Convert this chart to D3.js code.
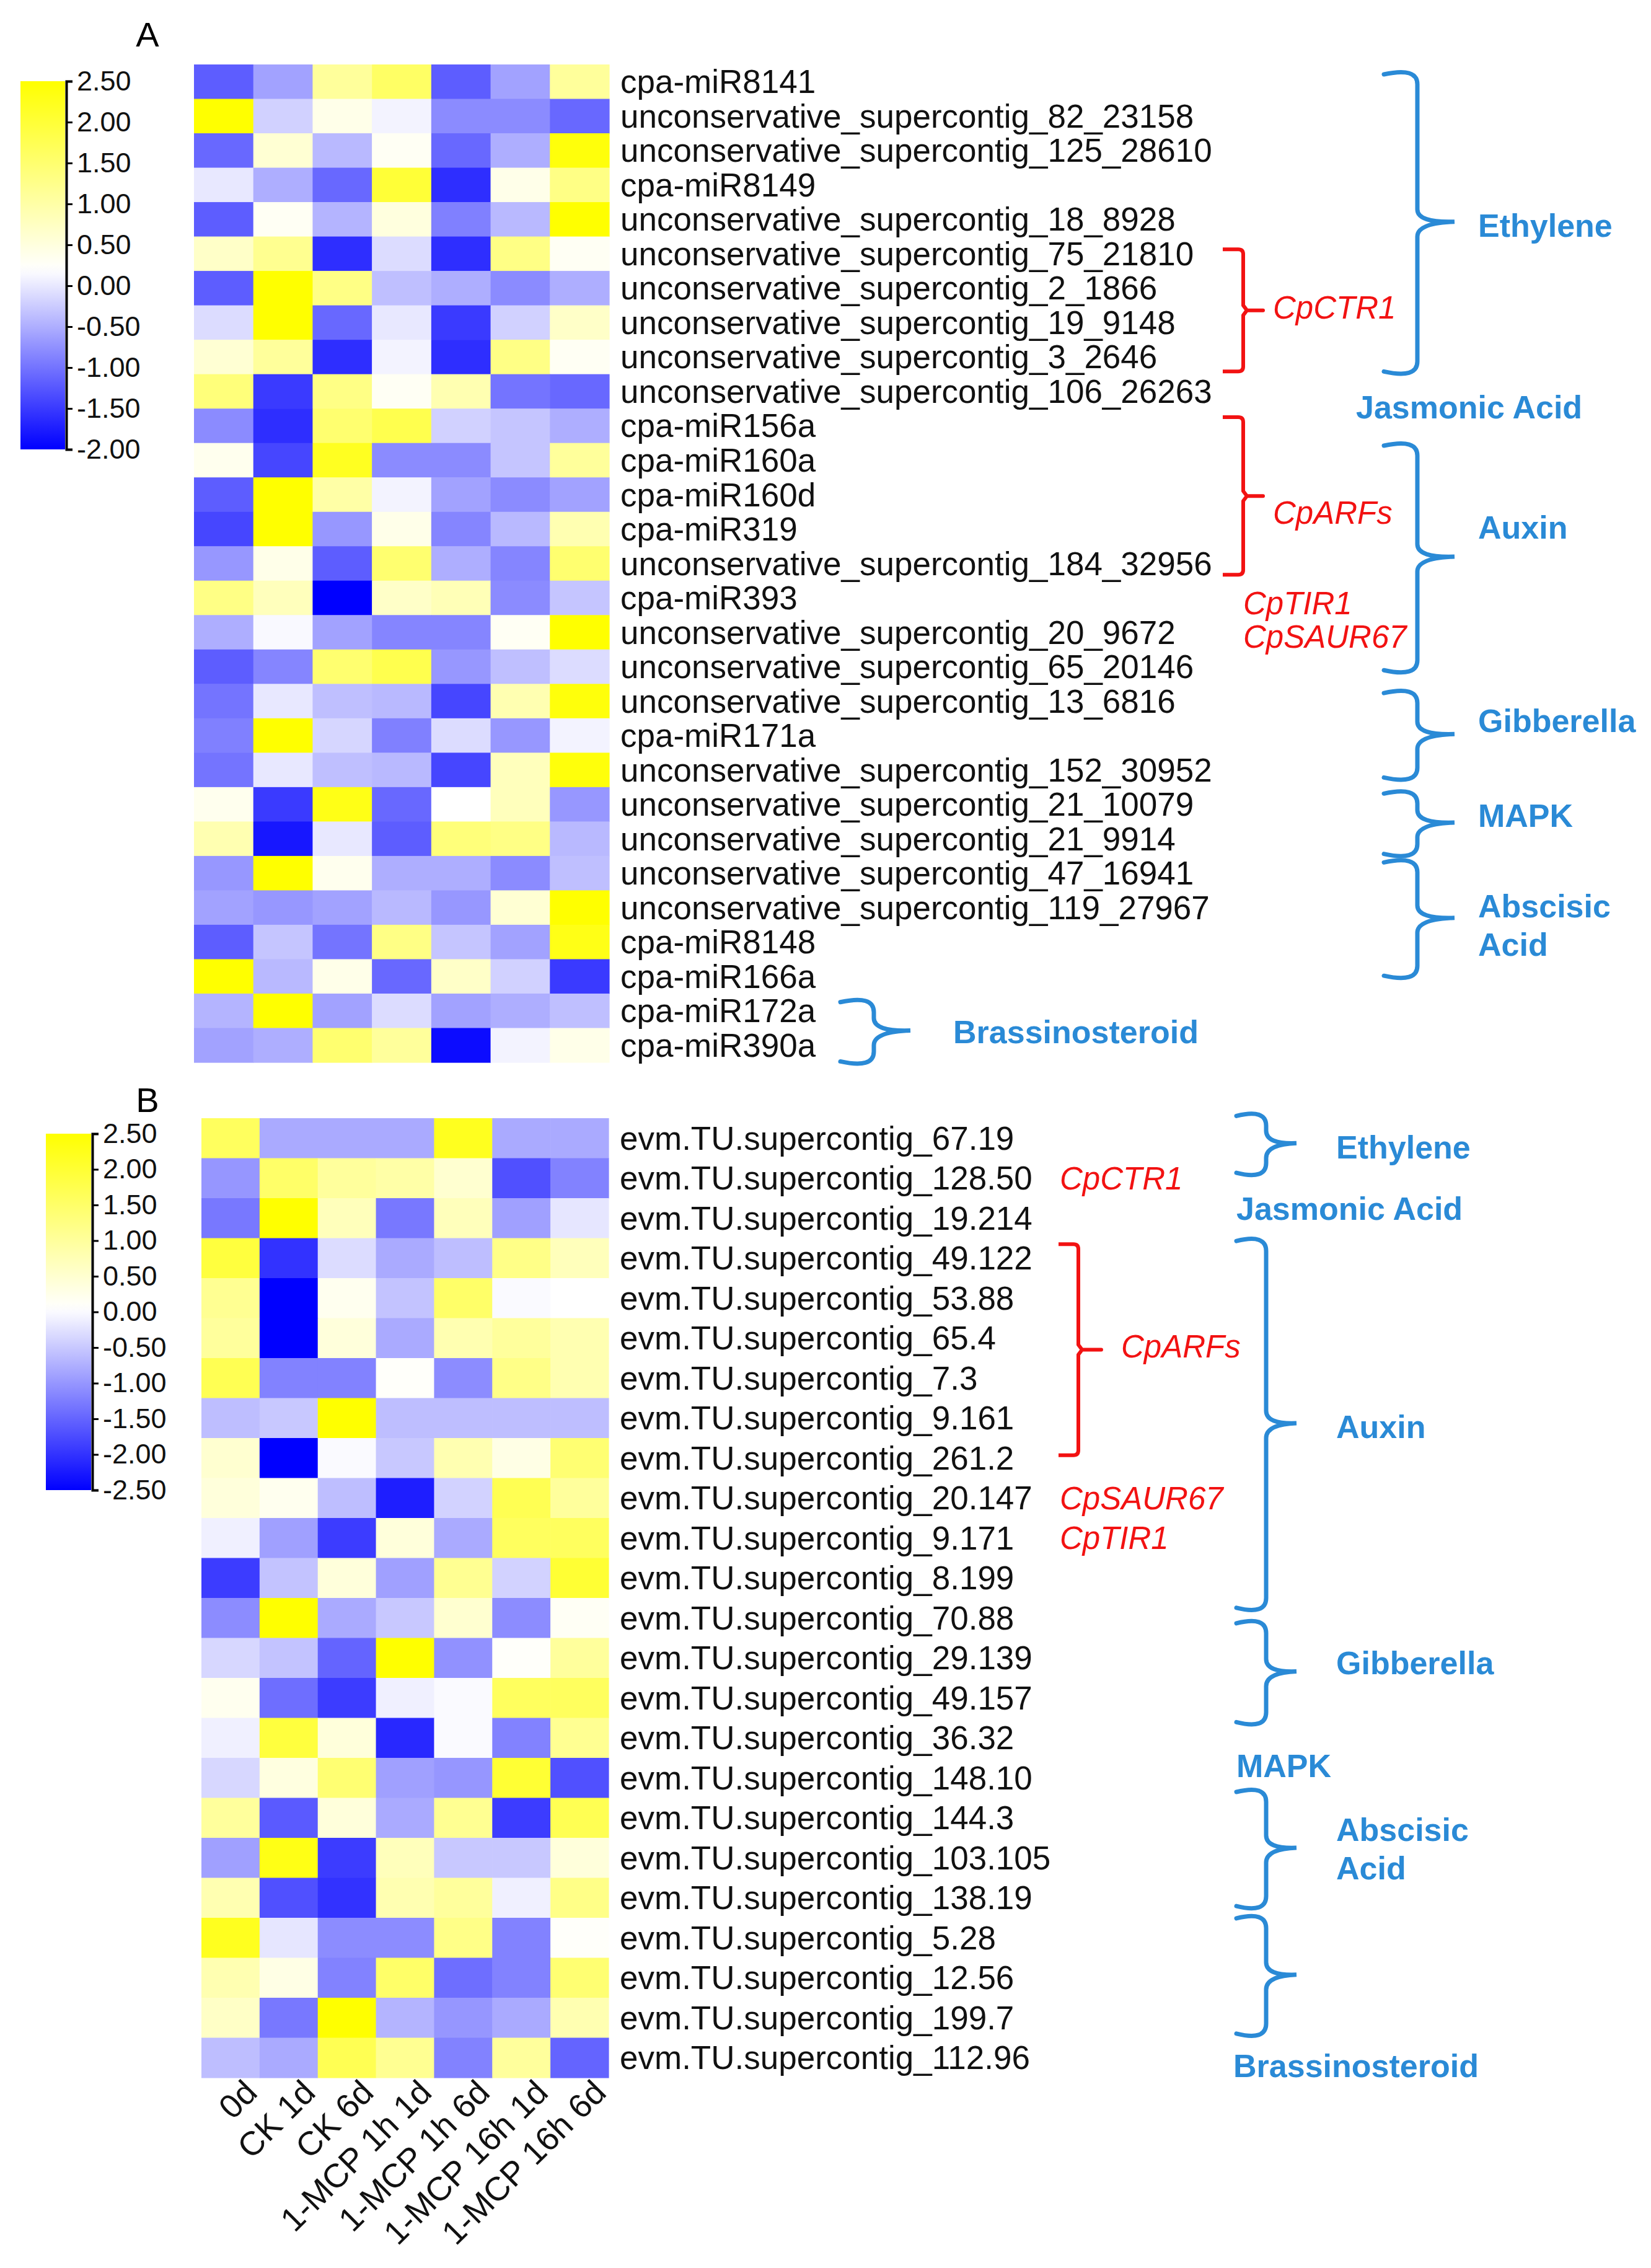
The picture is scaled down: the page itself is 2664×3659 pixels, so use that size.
<!DOCTYPE html>
<html>
<head>
<meta charset="utf-8">
<script src="https://cdn.jsdelivr.net/npm/d3@7"></script>
<style>
body { margin: 0; background: #fff; }
text { font-family: "Liberation Sans", Arial, sans-serif; }
</style>
</head>
<body>
<div id="chart"></div>
<script>
// Data

var timePoints = ['0d', 'CK 1d', 'CK 6d', '1-MCP 1h 1d', '1-MCP 1h 6d', '1-MCP 16h 1d', '1-MCP 16h 6d'];

var mirnaNames = [
	'cpa-miR8141', 'unconservative_supercontig_82_23158', 'unconservative_supercontig_125_28610',
	'cpa-miR8149', 'unconservative_supercontig_18_8928', 'unconservative_supercontig_75_21810',
	'unconservative_supercontig_2_1866', 'unconservative_supercontig_19_9148', 'unconservative_supercontig_3_2646',
	'unconservative_supercontig_106_26263', 'cpa-miR156a', 'cpa-miR160a', 'cpa-miR160d', 'cpa-miR319',
	'unconservative_supercontig_184_32956', 'cpa-miR393', 'unconservative_supercontig_20_9672',
	'unconservative_supercontig_65_20146', 'unconservative_supercontig_13_6816', 'cpa-miR171a',
	'unconservative_supercontig_152_30952', 'unconservative_supercontig_21_10079', 'unconservative_supercontig_21_9914',
	'unconservative_supercontig_47_16941', 'unconservative_supercontig_119_27967', 'cpa-miR8148',
	'cpa-miR166a', 'cpa-miR172a', 'cpa-miR390a'
];

var mirnaValues = [
	[-1.2, -0.6, 1.1, 1.6, -1.2, -0.6, 1.1],
	[2.5, -0.2, 0.4, 0.1, -0.8, -0.8, -1.1],
	[-1.1, 0.6, -0.4, 0.3, -1.1, -0.5, 2.4],
	[0.0, -0.5, -1.1, 2.0, -1.6, 0.4, 1.3],
	[-1.2, 0.3, -0.45, 0.5, -0.9, -0.4, 2.5],
	[0.7, 1.2, -1.6, -0.1, -1.6, 1.3, 0.3],
	[-1.2, 2.5, 1.3, -0.35, -0.5, -0.8, -0.5],
	[-0.1, 2.5, -1.1, 0.0, -1.5, -0.2, 0.7],
	[0.6, 1.1, -1.6, 0.1, -1.6, 1.3, 0.3],
	[1.4, -1.5, 1.3, 0.3, 0.9, -1.0, -1.1],
	[-0.8, -1.6, 1.5, 1.8, -0.2, -0.3, -0.5],
	[0.35, -1.4, 2.2, -0.8, -0.8, -0.3, 1.1],
	[-1.2, 2.5, 1.0, 0.1, -0.6, -0.8, -0.6],
	[-1.4, 2.5, -0.7, 0.4, -0.85, -0.4, 0.9],
	[-0.7, 0.4, -1.2, 1.5, -0.5, -0.85, 1.5],
	[1.3, 0.8, -2.0, 0.7, 0.85, -0.8, -0.3],
	[-0.5, 0.15, -0.6, -0.85, -0.85, 0.3, 2.5],
	[-1.2, -0.85, 1.5, 1.8, -0.7, -0.35, -0.1],
	[-1.0, 0.0, -0.35, -0.4, -1.4, 0.9, 2.4],
	[-0.9, 2.5, -0.15, -0.9, -0.1, -0.7, 0.1],
	[-1.0, 0.0, -0.35, -0.4, -1.4, 0.8, 2.4],
	[0.35, -1.5, 2.3, -1.1, 0.2, 0.8, -0.7],
	[0.9, -1.8, 0.0, -1.2, 1.4, 1.3, -0.4],
	[-0.7, 2.5, 0.35, -0.5, -0.5, -0.8, -0.35],
	[-0.6, -0.7, -0.6, -0.4, -0.7, 0.6, 2.5],
	[-1.2, -0.3, -1.0, 1.3, -0.3, -0.6, 2.3],
	[2.5, -0.4, 0.4, -1.1, 0.7, -0.2, -1.5],
	[-0.45, 2.5, -0.6, -0.1, -0.6, -0.5, -0.35],
	[-0.6, -0.5, 1.5, 1.1, -1.9, 0.1, 0.4]
];

var geneNames = [
	'evm.TU.supercontig_67.19', 'evm.TU.supercontig_128.50', 'evm.TU.supercontig_19.214',
	'evm.TU.supercontig_49.122', 'evm.TU.supercontig_53.88', 'evm.TU.supercontig_65.4',
	'evm.TU.supercontig_7.3', 'evm.TU.supercontig_9.161', 'evm.TU.supercontig_261.2',
	'evm.TU.supercontig_20.147', 'evm.TU.supercontig_9.171', 'evm.TU.supercontig_8.199',
	'evm.TU.supercontig_70.88', 'evm.TU.supercontig_29.139', 'evm.TU.supercontig_49.157',
	'evm.TU.supercontig_36.32', 'evm.TU.supercontig_148.10', 'evm.TU.supercontig_144.3',
	'evm.TU.supercontig_103.105', 'evm.TU.supercontig_138.19', 'evm.TU.supercontig_5.28',
	'evm.TU.supercontig_12.56', 'evm.TU.supercontig_199.7', 'evm.TU.supercontig_112.96'
];

var geneValues = [
	[1.6, -0.8, -0.8, -0.8, 2.2, -0.8, -0.8],
	[-1.0, 1.5, 1.0, 0.9, 0.5, -1.7, -1.2],
	[-1.3, 2.5, 0.7, -1.3, 0.7, -0.9, -0.2],
	[1.9, -2.0, -0.3, -0.8, -0.6, 1.2, 0.7],
	[1.1, -2.5, 0.2, -0.55, 1.5, 0.0, 0.05],
	[1.0, -2.5, 0.4, -0.8, 0.8, 1.0, 0.8],
	[1.7, -1.2, -1.2, 0.1, -1.1, 1.2, 0.8],
	[-0.6, -0.5, 2.5, -0.6, -0.6, -0.6, -0.6],
	[0.5, -2.5, 0.0, -0.5, 0.8, 0.3, 1.4],
	[0.4, 0.2, -0.6, -2.2, -0.4, 1.7, 1.0],
	[-0.1, -0.9, -1.9, 0.4, -0.8, 1.6, 1.6],
	[-1.9, -0.55, 0.4, -0.9, 1.1, -0.4, 2.0],
	[-1.1, 2.5, -0.8, -0.5, 0.5, -1.1, 0.15],
	[-0.35, -0.55, -1.5, 2.5, -1.05, 0.1, 1.0],
	[0.2, -1.4, -1.9, -0.1, 0.0, 1.6, 1.6],
	[-0.1, 1.9, 0.4, -2.1, 0.0, -1.2, 1.1],
	[-0.35, 0.35, 1.4, -0.9, -1.0, 2.0, -1.7],
	[1.0, -1.6, 0.4, -0.8, 1.1, -1.9, 1.7],
	[-0.9, 2.3, -1.9, 0.7, -0.5, -0.5, 0.4],
	[0.8, -1.7, -2.0, 0.8, 1.0, -0.1, 1.2],
	[2.2, -0.2, -1.1, -1.1, 1.2, -1.2, 0.1],
	[0.8, 0.3, -1.2, 1.5, -1.4, -1.2, 1.4],
	[0.6, -1.3, 2.5, -0.7, -1.0, -0.8, 0.8],
	[-0.6, -0.8, 1.7, 1.1, -1.2, 1.0, -1.5]
];

var mirnaTicks = [2.5, 2, 1.5, 1, 0.5, 0, -0.5, -1, -1.5, -2];
var geneTicks = [2.5, 2, 1.5, 1, 0.5, 0, -0.5, -1, -1.5, -2, -2.5];

// Annotation groups, all spans in row units (row index, fractional)
var mirnaBraces = [
	{ label: 'Ethylene', from: 0.18, to: 9.03, labelAt: 4.68 },
	{ label: 'Auxin', from: 10.97, to: 17.71, labelAt: 13.46 },
	{ label: 'Gibberella', from: 18.16, to: 20.83, labelAt: 19.08 },
	{ label: 'MAPK', from: 21.08, to: 23.05, labelAt: 21.82 },
	{ label: 'Abscisic|Acid', from: 23.08, to: 26.59, labelAt: 25.01 }
];
var mirnaFreeLabels = [
	{ label: 'Jasmonic Acid', at: 9.95 }
];
var mirnaGeneBrackets = [
	{ label: 'CpCTR1', from: 5.37, to: 8.92, labelAt: 7.06 },
	{ label: 'CpARFs', from: 10.25, to: 14.83, labelAt: 13.03 }
];
var mirnaGeneLabels = [
	{ label: 'CpTIR1', at: 15.66 },
	{ label: 'CpSAUR67', at: 16.63 }
];
var mirnaLowBrace = { label: 'Brassinosteroid', from: 27.14, to: 29.08, labelAt: 28.12 };

var geneBraces = [
	{ label: 'Ethylene', from: -0.15, to: 1.46, labelAt: 0.73 },
	{ label: 'Auxin', from: 2.98, to: 12.34, labelAt: 7.72 },
	{ label: 'Gibberella', from: 12.54, to: 15.2, labelAt: 13.63 },
	{ label: 'Abscisic|Acid', from: 16.76, to: 19.8, labelAt: 18.27 },
	{ label: '', from: 19.92, to: 22.99, labelAt: 21.45 }
];
var geneFreeLabels = [
	{ label: 'Jasmonic Acid', at: 2.26 },
	{ label: 'MAPK', at: 16.2 },
	{ label: 'Brassinosteroid', at: 23.7 }
];
var geneGeneBrackets = [
	{ label: 'CpARFs', from: 3.15, to: 8.43, labelAt: 5.71 }
];
var geneGeneLabels = [
	{ label: 'CpCTR1', at: 1.5 },
	{ label: 'CpSAUR67', at: 9.5 },
	{ label: 'CpTIR1', at: 10.5 }
];

// Config

var W = 2664, H = 3659;
var blueInk = '#2a8ad6';
var redInk = '#f21212';

var svg = d3.select('#chart').append('svg')
	.attr('width', W).attr('height', H)
	.attr('viewBox', `0 0 ${W} ${H}`);

function bracePath(x0, xs, xt, y0, y1) {
	const ym = (y0 + y1) / 2;
	const r = 22;
	return `M${x0},${y0 + 6} Q${xs},${y0 - 6} ${xs},${y0 + r}` +
		` L${xs},${ym - r} Q${xs},${ym} ${xt},${ym - 2}` +
		` Q${xs},${ym} ${xs},${ym + r} L${xs},${y1 - r} Q${xs},${y1 + 6} ${x0},${y1 - 6}`;
}

function squarePath(x0, xs, xt, y0, y1) {
	const ym = (y0 + y1) / 2;
	const r = 8;
	return `M${x0},${y0} L${xs - r},${y0} Q${xs},${y0} ${xs},${y0 + r} L${xs},${ym - 8}` +
		` L${xs + 6},${ym} L${xt},${ym} L${xs + 6},${ym} L${xs},${ym + 8}` +
		` L${xs},${y1 - r} Q${xs},${y1} ${xs - r},${y1} L${x0},${y1}`;
}

function blueLabel(g, x, y, label) {
	const parts = label.split('|');
	parts.forEach((p, k) => {
		g.append('text').attr('x', x)
			.attr('y', y + (k - (parts.length - 1) / 2) * 62)
			.attr('dy', '0.35em')
			.style('font-size', '52px').style('font-weight', 'bold')
			.attr('fill', blueInk).text(p);
	});
}

function drawPanel(opts) {
	const g = svg.append('g');
	const x = d3.scaleBand().domain(timePoints).range([opts.left, opts.right]);
	const y = d3.scaleBand().domain(opts.names).range([opts.top, opts.bottom]);
	const rowY = d3.scaleLinear().domain([0, opts.names.length]).range([opts.top, opts.bottom]);
	const color = d3.scaleLinear().domain(opts.colorDomain)
		.range(['#0000ff', '#ffffff', '#ffff00']).clamp(true);

	// cells
	const cells = [];
	opts.values.forEach((row, i) => row.forEach((v, j) => cells.push({ name: opts.names[i], t: timePoints[j], v })));
	g.append('g').selectAll('rect').data(cells).enter().append('rect')
		.attr('x', d => x(d.t))
		.attr('y', d => y(d.name))
		.attr('width', x.bandwidth() + 0.6)
		.attr('height', y.bandwidth() + 0.6)
		.attr('fill', d => color(d.v));

	// row labels
	g.append('g').selectAll('text').data(opts.names).enter().append('text')
		.attr('x', opts.right + 18)
		.attr('y', d => y(d) + y.bandwidth() / 2)
		.attr('dy', '0.35em')
		.style('font-size', '53px')
		.attr('fill', '#111')
		.text(d => d);

	// legend
	const lg = opts.legend;
	const ly = d3.scaleLinear().domain(d3.extent(opts.ticks)).range([lg.y1, lg.y0]);
	const gradId = 'grad' + opts.key;
	const grad = svg.append('defs').append('linearGradient').attr('id', gradId)
		.attr('x1', 0).attr('y1', 1).attr('x2', 0).attr('y2', 0);
	const [lo, hi] = ly.domain();
	d3.range(0, 41).forEach(k => {
		const v = lo + (hi - lo) * k / 40;
		grad.append('stop').attr('offset', (k / 40 * 100) + '%').attr('stop-color', color(v));
	});
	g.append('rect').attr('x', lg.x0).attr('y', lg.y0)
		.attr('width', lg.x1 - lg.x0).attr('height', lg.y1 - lg.y0)
		.attr('fill', `url(#${gradId})`);
	const axis = g.append('g').attr('transform', `translate(${lg.x1 + 2},0)`)
		.call(d3.axisRight(ly).tickValues(opts.ticks).tickSize(10).tickSizeOuter(10).tickPadding(7)
			.tickFormat(d => d.toFixed(2)));
	axis.select('.domain').attr('stroke', '#000').attr('stroke-width', 4);
	axis.selectAll('.tick line').attr('stroke', '#000').attr('stroke-width', 3);
	axis.selectAll('.tick text').style('font-size', '45px').attr('fill', '#111')
		.style('font-family', '"Liberation Sans", Arial, sans-serif');

	// panel letter
	g.append('text').attr('x', opts.letterX).attr('y', opts.letterY)
		.attr('text-anchor', 'middle').attr('dy', '0.35em')
		.style('font-size', '56px').text(opts.key);

	// blue braces
	const bx = opts.braceX;
	opts.braces.forEach(b => {
		g.append('path')
			.attr('d', bracePath(bx[0], bx[1], bx[2], rowY(b.from), rowY(b.to)))
			.attr('fill', 'none').attr('stroke', blueInk).attr('stroke-width', 7)
			.attr('stroke-linecap', 'round');
		blueLabel(g, bx[2] + opts.braceTextGap, rowY(b.labelAt), b.label);
	});
	opts.freeLabels.forEach(f => {
		blueLabel(g, f.label === 'Brassinosteroid' ? opts.lowTextX : opts.freeX, rowY(f.at), f.label);
	});

	// red gene brackets
	const rx = opts.redX;
	opts.geneBrackets.forEach(b => {
		g.append('path')
			.attr('d', squarePath(rx[0], rx[1], rx[2], rowY(b.from), rowY(b.to)))
			.attr('fill', 'none').attr('stroke', redInk).attr('stroke-width', 6)
			.attr('stroke-linejoin', 'round');
		g.append('text').attr('x', rx[2] + opts.redTextGap)
			.attr('y', rowY(b.labelAt)).attr('dy', '0.35em')
			.style('font-size', '51px').style('font-style', 'italic')
			.attr('fill', redInk).text(b.label);
	});
	opts.geneLabels.forEach(f => {
		g.append('text').attr('x', opts.redLabelX)
			.attr('y', rowY(f.at)).attr('dy', '0.35em')
			.style('font-size', '51px').style('font-style', 'italic')
			.attr('fill', redInk).text(f.label);
	});

	return { g, x, y, rowY };
}

// Panel A (miRNAs)
var panelA = drawPanel({
	key: 'A', names: mirnaNames, values: mirnaValues, ticks: mirnaTicks,
	left: 313, right: 983, top: 104, bottom: 1714,
	colorDomain: [-2, 0.2, 2.5],
	legend: { x0: 33, x1: 105, y0: 131, y1: 725 },
	letterX: 238, letterY: 55,
	braces: mirnaBraces, braceX: [2233, 2287, 2347], braceTextGap: 38,
	freeLabels: mirnaFreeLabels, freeX: 2188, lowTextX: 1538,
	geneBrackets: mirnaGeneBrackets, redX: [1973, 2006, 2038], redTextGap: 16,
	geneLabels: mirnaGeneLabels, redLabelX: 2006
});

// Brassinosteroid brace sits next to the short labels in panel A
(function () {
	const r = panelA.rowY;
	panelA.g.append('path')
		.attr('d', bracePath(1356, 1410, 1469, r(mirnaLowBrace.from), r(mirnaLowBrace.to)))
		.attr('fill', 'none').attr('stroke', blueInk).attr('stroke-width', 7)
		.attr('stroke-linecap', 'round');
	blueLabel(panelA.g, 1538, r(mirnaLowBrace.labelAt), mirnaLowBrace.label);
})();

// Panel B (target genes)
var panelB = drawPanel({
	key: 'B', names: geneNames, values: geneValues, ticks: geneTicks,
	left: 325, right: 982, top: 1804, bottom: 3352,
	colorDomain: [-2.5, 0.05, 2.5],
	legend: { x0: 74, x1: 147, y0: 1829, y1: 2404 },
	letterX: 238, letterY: 1774,
	braces: geneBraces, braceX: [1995, 2043, 2092], braceTextGap: 64,
	freeLabels: geneFreeLabels, freeX: 1995, lowTextX: 1990,
	geneBrackets: geneGeneBrackets, redX: [1708, 1740, 1777], redTextGap: 32,
	geneLabels: geneGeneLabels, redLabelX: 1710
});

// column labels under panel B
panelB.g.append('g').selectAll('text').data(timePoints).enter().append('text')
	.attr('transform', d => `translate(${panelB.x(d) + panelB.x.bandwidth() / 2 + 46},${3352 + 27}) rotate(-45)`)
	.attr('text-anchor', 'end')
	.style('font-size', '54px')
	.attr('fill', '#111')
	.text(d => d);
</script>
</body>
</html>
